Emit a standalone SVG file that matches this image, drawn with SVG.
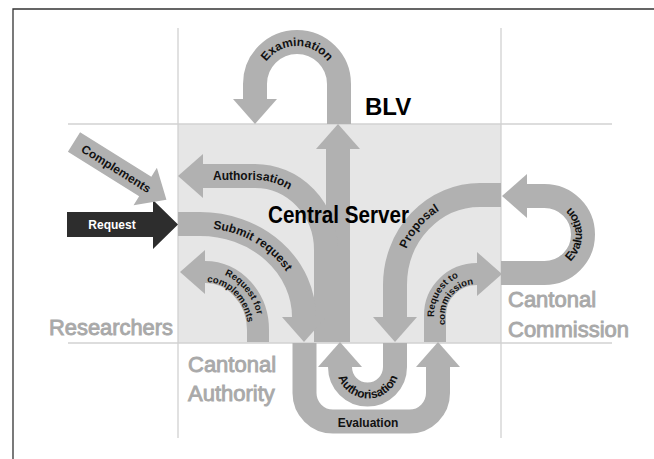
<svg xmlns="http://www.w3.org/2000/svg" width="654" height="459" viewBox="0 0 654 459">
<style>
.frame{stroke:#333;stroke-width:1.3;fill:none}
.grid{stroke:#d2d2d2;stroke-width:1.3;fill:none}
.band{fill:none;stroke:#b1b1b1;stroke-width:24;stroke-linecap:butt;marker-end:url(#ah)}
.band22{fill:none;stroke:#b1b1b1;stroke-width:22;stroke-linecap:butt;marker-end:url(#ah)}
.lbl{font-family:"Liberation Sans",Arial,sans-serif;font-weight:bold;font-size:12px;fill:#111}
.sm{font-size:9.6px}
.region{font-family:"Liberation Sans",Arial,sans-serif;font-size:22px;fill:#a9a9a9;stroke:#a9a9a9;stroke-width:0.9}
.title{font-family:"Liberation Sans",Arial,sans-serif;font-weight:bold;font-size:24px;fill:#000}
</style>
<defs>
<marker id="ah" markerUnits="userSpaceOnUse" markerWidth="25" markerHeight="44" refX="0" refY="22" orient="auto" viewBox="0 0 25 44"><path d="M0 0 L25 22 L0 44 Z" fill="#b1b1b1"/></marker>
<path id="tExam" d="M259 84 A38 38 0 0 1 335 84"/>
<path id="tAuth1" d="M203 180 H255 A67 70 0 0 1 322 250"/>
<path id="tSubmit" d="M178 228 H200 A100 89 0 0 1 300 317"/>
<path id="tRfc1" d="M205 271 A54 59 0 0 1 259 330 V342"/>
<path id="tRfc2" d="M205 282 A43 48 0 0 1 248 330 V342"/>
<path id="tProp" d="M399 300 V285 A81 86 0 0 1 480 199 H501"/>
<path id="tRtc1" d="M434 342 V315 A43 42 0 0 1 477 273 H500"/>
<path id="tRtc2" d="M445 342 V315 A32 31 0 0 1 477 284 H500"/>
<path id="tEvalR" d="M544.5 272 A37.5 37.5 0 0 0 544.5 197"/>
<path id="tAuth2" d="M336.5 367 A31.5 31.5 0 0 0 399.5 367"/>
</defs>

<rect width="654" height="459" fill="#fff"/>
<path class="frame" d="M13 459 V9 H654"/>
<rect x="178" y="124" width="323" height="219" fill="#e6e6e6"/>
<g id="grid">
<path class="grid" d="M178 28 V438 M501 28 V438 M68 124 H612 M68 343 H612"/>
</g>

<g id="connectors">
<path class="band" d="M339 124 V84 A42 42 0 0 0 255 84 V99"/>
<path class="band" d="M338 342 V149"/>
<path class="band" d="M326 342 V250 A71 74 0 0 0 255 176 H203"/>
<path class="band" d="M178 224 H200 A104 93 0 0 1 304 317"/>
<path class="band22" d="M258 342 V330 A53 58 0 0 0 205 272"/>
<path class="band" d="M501 195 H480 A85 90 0 0 0 395 285 V317"/>
<path class="band22" d="M435 342 V315 A42 41 0 0 1 477 274"/>
<path class="band" d="M501 273 H544.5 A38.5 38.5 0 0 0 544.5 196 H527"/>
<path class="band" d="M304.5 343 V393 A28.5 28.5 0 0 0 333 421.5 H409.5 A28.5 28.5 0 0 0 438 393 V367"/>
<path class="band" d="M395 343 V367 A27.5 27.5 0 0 1 340 367"/>
<polygon points="67,212 153,212 153,200 178,224.5 153,249 153,237 67,237" fill="#2d2d2d"/>
<g transform="translate(74,142) rotate(32)">
<polygon points="0,-11.5 84,-11.5 84,-22 109,0 84,22 84,11.5 0,11.5" fill="#b1b1b1"/>
<text class="lbl" x="50" y="4.5" text-anchor="middle" font-size="12.5">Complements</text>
</g>
<text class="lbl" x="112" y="229" text-anchor="middle" style="fill:#fff" font-size="12.5">Request</text>
<text class="lbl"><textPath href="#tExam" startOffset="50%" text-anchor="middle">Examination</textPath></text>
<text class="lbl"><textPath href="#tAuth1" startOffset="10">Authorisation</textPath></text>
<text class="lbl"><textPath href="#tSubmit" startOffset="35">Submit request</textPath></text>
<text class="lbl sm"><textPath href="#tRfc1" startOffset="20">Request for</textPath></text>
<text class="lbl sm"><textPath href="#tRfc2" startOffset="2">complements</textPath></text>
<text class="lbl"><textPath href="#tProp" startOffset="52">Proposal</textPath></text>
<text class="lbl sm"><textPath href="#tRtc1" startOffset="25">Request to</textPath></text>
<text class="lbl sm"><textPath href="#tRtc2" startOffset="17">commission</textPath></text>
<text class="lbl"><textPath href="#tEvalR" startOffset="50%" text-anchor="middle">Evaluation</textPath></text>
<text class="lbl" font-size="11.5"><textPath href="#tAuth2" startOffset="50%" text-anchor="middle">Authorisation</textPath></text>
<text class="lbl" x="368" y="427" text-anchor="middle" font-size="12.5">Evaluation</text>
</g>

<g id="blv"><text class="title" x="365" y="115">BLV</text></g>
<g id="central-server"><text class="title" x="268" y="223" textLength="141" lengthAdjust="spacingAndGlyphs">Central Server</text></g>
<g id="researchers"><text class="region" x="49" y="335" textLength="124" lengthAdjust="spacingAndGlyphs">Researchers</text></g>
<g id="cantonal-authority"><text class="region" x="188" y="372">Cantonal</text><text class="region" x="188" y="401">Authority</text></g>
<g id="cantonal-commission"><text class="region" x="508" y="307">Cantonal</text><text class="region" x="508" y="337">Commission</text></g>
</svg>
